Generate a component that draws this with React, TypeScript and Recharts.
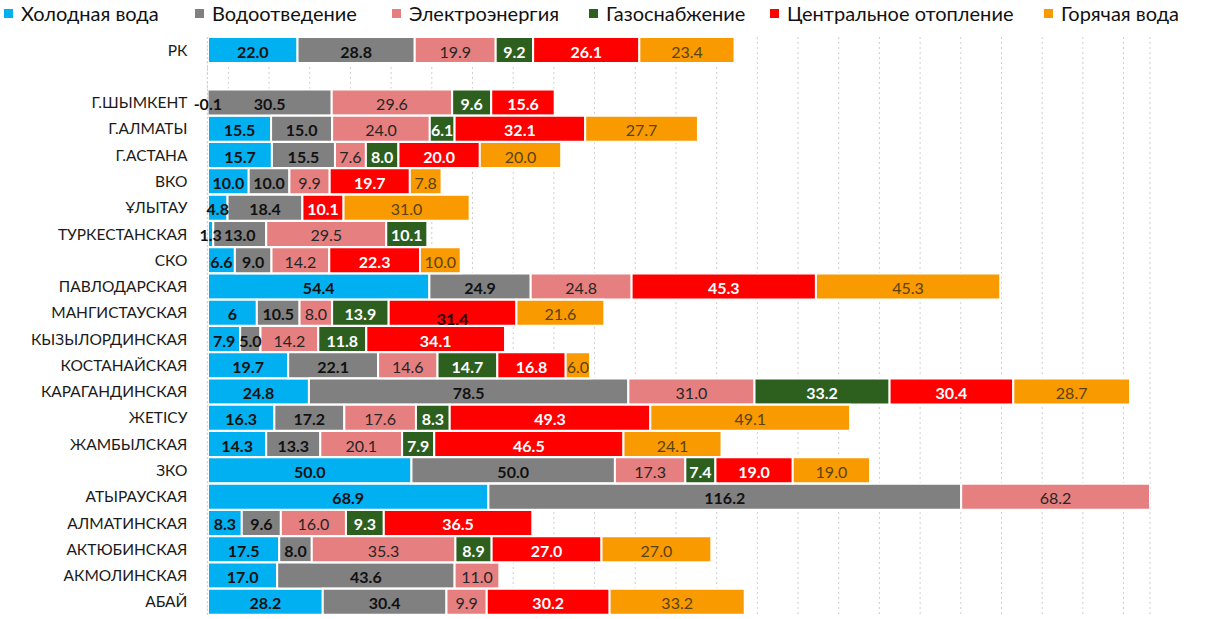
import React from "react";
import { BarChart, Bar, XAxis, YAxis, CartesianGrid, LabelList } from "recharts";

const categories = [
  "РК", "", "Г.ШЫМКЕНТ", "Г.АЛМАТЫ", "Г.АСТАНА", "ВКО", "ҰЛЫТАУ", "ТУРКЕСТАНСКАЯ", "СКО",
  "ПАВЛОДАРСКАЯ", "МАНГИСТАУСКАЯ", "КЫЗЫЛОРДИНСКАЯ", "КОСТАНАЙСКАЯ", "КАРАГАНДИНСКАЯ",
  "ЖЕТІСУ", "ЖАМБЫЛСКАЯ", "ЗКО", "АТЫРАУСКАЯ", "АЛМАТИНСКАЯ", "АКТЮБИНСКАЯ", "АКМОЛИНСКАЯ", "АБАЙ",
];

const coldWater = [22.0, null, -0.1, 15.5, 15.7, 10.0, 4.8, 1.3, 6.6, 54.4, 12, 7.9, 19.7, 24.8, 16.3, 14.3, 50.0, 68.9, 8.3, 17.5, 17.0, 28.2];
const sewerage = [28.8, null, 30.5, 15.0, 15.5, 10.0, 18.4, 13.0, 9.0, 24.9, 10.5, 5.0, 22.1, 78.5, 17.2, 13.3, 50.0, 116.2, 9.6, 8.0, 43.6, 30.4];
const electricity = [19.9, null, 29.6, 24.0, 7.6, 9.9, null, 29.5, 14.2, 24.8, 8.0, 14.2, 14.6, 31.0, 17.6, 20.1, 17.3, 68.2, 16.0, 35.3, 11.0, 9.9];
const gas = [9.2, null, 9.6, 6.1, 8.0, null, null, 10.1, null, null, 13.9, 11.8, 14.7, 33.2, 8.3, 7.9, 7.4, null, 9.3, 8.9, null, null];
const heating = [26.1, null, 15.6, 32.1, 20.0, 19.7, 10.1, null, 22.3, 45.3, 31.4, 34.1, 16.8, 30.4, 49.3, 46.5, 19.0, null, 36.5, 27.0, null, 30.2];
const hotWater = [23.4, null, null, 27.7, 20.0, 7.8, 31.0, null, 10.0, 45.3, 21.6, null, 6.0, 28.7, 49.1, 24.1, 19.0, null, null, 27.0, null, 33.2];

// label text shown in the source where it differs from the bar value
const coldWaterLabelText: Record<string, string> = { "МАНГИСТАУСКАЯ": "6" };

const gridTicks = [5, 15, 25, 35, 45, 55, 65, 75, 85, 95, 105, 115, 125, 135, 145, 155, 165, 175, 185, 195, 205, 215, 225];

const FONT = "Lato, 'Open Sans', sans-serif";
const W = 1208;
const H = 619;
const MARGIN = { top: 37, right: 58, bottom: 3, left: 0 };
const PLOT_RIGHT = W - MARGIN.right;
const LEGEND_LEFT = [4, 195, 392, 589, 770, 1044];

type SeriesDef = {
  key: string;
  name: string;
  color: string;
  values: (number | null)[];
  labelColor: string;
  bold: boolean;
  labelText?: Record<string, string>;
  labelOverride?: Record<string, { color?: string; dy?: number; dx?: number }>;
};

const series: SeriesDef[] = [
  { key: "cold", name: "Холодная вода", color: "#00B0F0", values: coldWater, labelColor: "#111", bold: true, labelText: coldWaterLabelText },
  { key: "sewer", name: "Водоотведение", color: "#808080", values: sewerage, labelColor: "#111", bold: true },
  { key: "power", name: "Электроэнергия", color: "#E67F7F", values: electricity, labelColor: "#262626", bold: false },
  { key: "gas", name: "Газоснабжение", color: "#2D5F1F", values: gas, labelColor: "#ffffff", bold: true },
  { key: "heat", name: "Центральное отопление", color: "#FF0000", values: heating, labelColor: "#ffffff", bold: true, labelOverride: { "МАНГИСТАУСКАЯ": { color: "#2a0000", dy: 5 } } },
  { key: "hot", name: "Горячая вода", color: "#F89A00", values: hotWater, labelColor: "#5a4210", bold: false },
];

const data = categories.map((name, i) => {
  const row: Record<string, any> = { name };
  series.forEach((s) => {
    row[s.key] = s.values[i];
  });
  return row;
});

const makeLabel = (s: SeriesDef) => (props: any) => {
  const cat = props.value as string;
  const idx = categories.indexOf(cat);
  if (idx < 0) return null;
  const v = s.values[idx];
  if (v === null || v === undefined) return null;
  const vb = props.viewBox && props.viewBox.width !== undefined ? props.viewBox : props;
  let x = Number(vb.x);
  let width = Number(vb.width);
  const y = Number(vb.y);
  const height = Number(vb.height);
  if (width < 0) {
    x = x + width;
    width = -width;
  }
  const right = Math.min(x + width, PLOT_RIGHT);
  const cx = (x + right) / 2;
  const text = s.labelText && s.labelText[cat] !== undefined ? s.labelText[cat] : v.toFixed(1);
  const ov = s.labelOverride ? s.labelOverride[cat] : undefined;
  return (
    <text
      x={cx + (ov && ov.dx ? ov.dx : 0)}
      y={y + height / 2 + 1 + (ov && ov.dy ? ov.dy : 0)}
      textAnchor="middle"
      dominantBaseline="central"
      fontFamily={FONT}
      fontSize={16}
      fontWeight={s.bold ? 700 : 400}
      fill={ov && ov.color ? ov.color : s.labelColor}
    >
      {text}
    </text>
  );
};

const Legend = () => (
  <div style={{ position: "absolute", top: 0, left: 0, width: W, height: 26, fontFamily: FONT, fontSize: 20, color: "#111" }}>
    {series.map((s, i) => (
      <div
        key={s.key}
        style={{ position: "absolute", left: LEGEND_LEFT[i], top: 2, display: "flex", alignItems: "center", whiteSpace: "nowrap", lineHeight: "22px" }}
      >
        <span style={{ display: "inline-block", width: 9, height: 9, background: s.color, marginRight: 8 }} />
        <span>{s.name}</span>
      </div>
    ))}
  </div>
);

const EmptyTick = () => <g />;

export default function App() {
  return (
    <div style={{ position: "fixed", left: 0, top: 0, width: W, height: H, background: "#fff" }}>
      <BarChart
        width={W}
        height={H}
        data={data}
        layout="vertical"
        margin={MARGIN}
        barSize={26}
        barCategoryGap={0}
      >
        <CartesianGrid horizontal={false} vertical={true} stroke="#cfcfcf" strokeDasharray="2 3" />
        <XAxis
          type="number"
          domain={[-0.15, 231.5]}
          allowDataOverflow
          ticks={gridTicks}
          interval={0}
          tick={EmptyTick}
          tickLine={false}
          axisLine={false}
          height={1}
        />
        <YAxis
          type="category"
          dataKey="name"
          width={207.4}
          interval={0}
          tickSize={0}
          tickMargin={20}
          tickLine={false}
          axisLine={{ stroke: "#cfcfcf", strokeDasharray: "2 2" }}
          tick={{ fontFamily: FONT, fontSize: 15.5, fill: "#1a1a1a" }}
        />
        {series.map((s) => (
          <Bar
            key={s.key}
            dataKey={s.key}
            name={s.name}
            stackId="a"
            fill={s.color}
            stroke="#ffffff"
            strokeWidth={2}
            isAnimationActive={false}
          >
            <LabelList dataKey={(row: any) => row.name} content={makeLabel(s)} />
          </Bar>
        ))}
      </BarChart>
      <Legend />
    </div>
  );
}
